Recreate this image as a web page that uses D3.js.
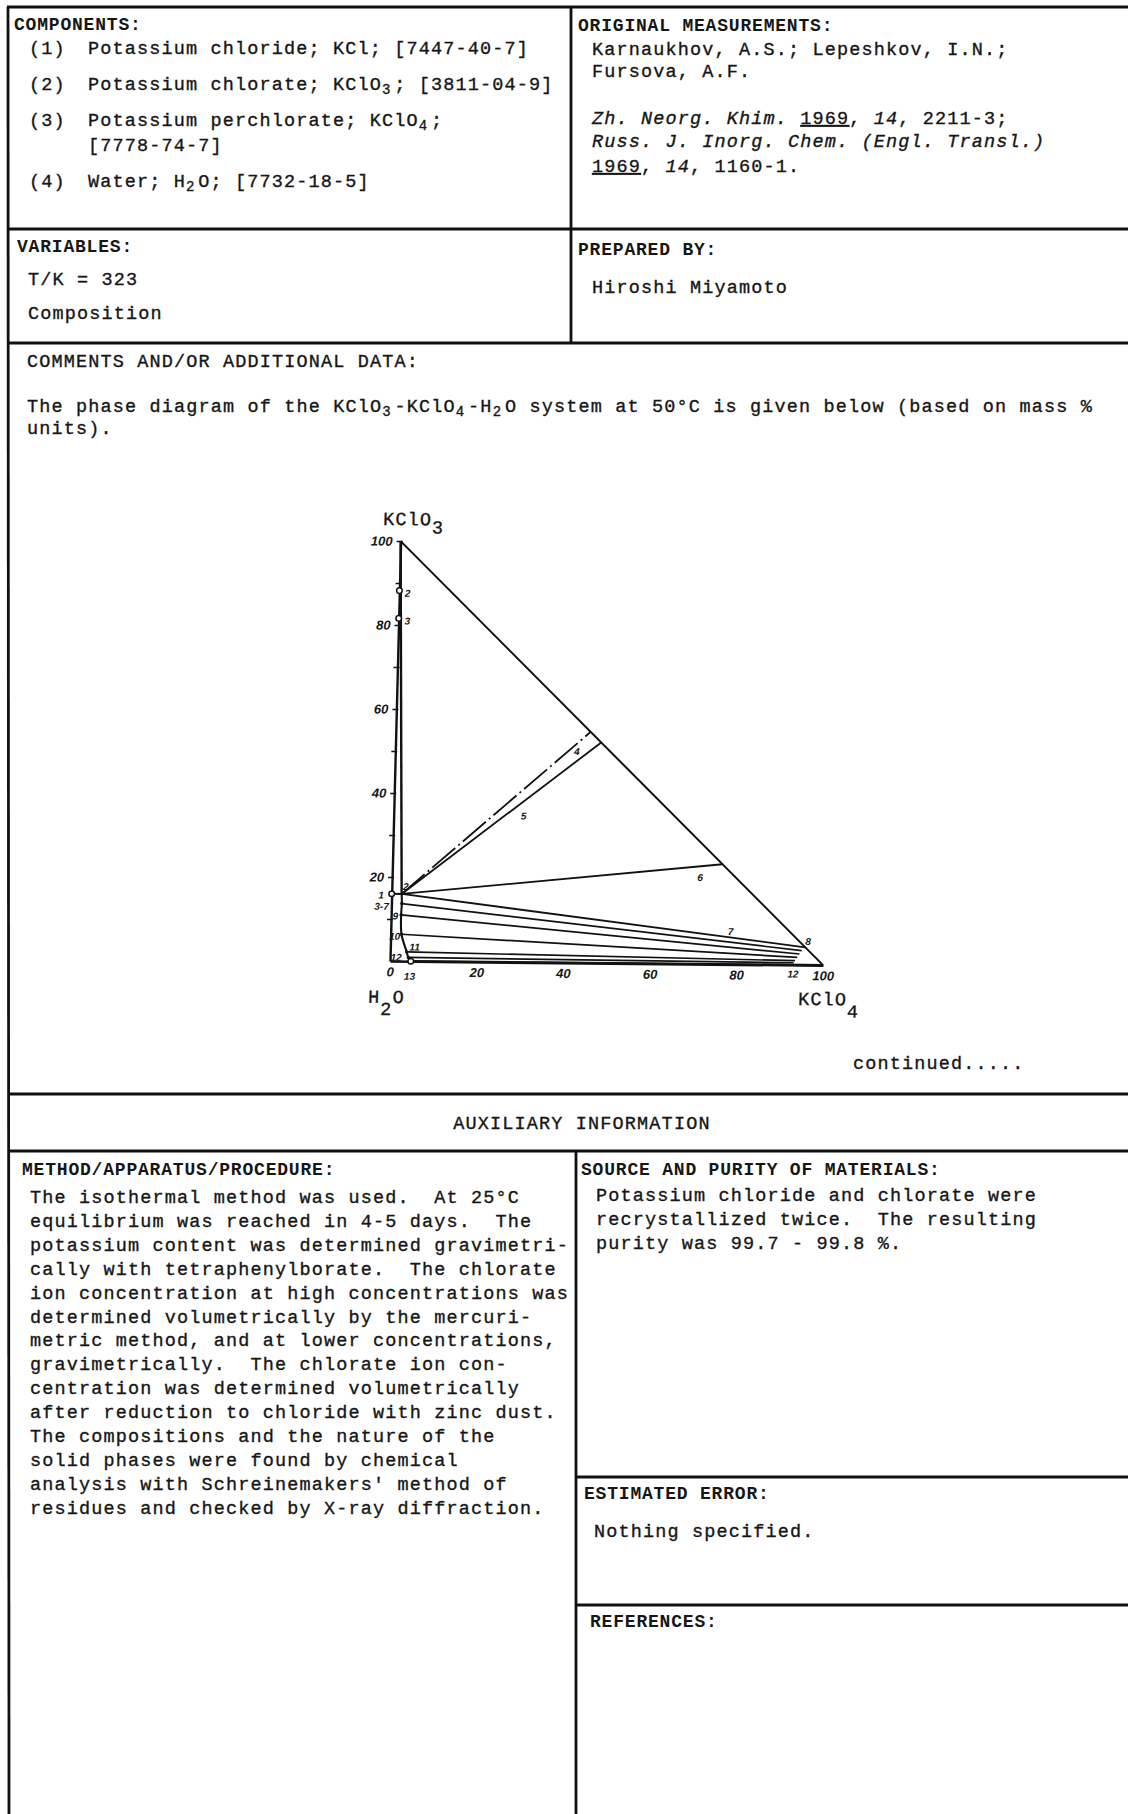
<!DOCTYPE html>
<html>
<head>
<meta charset="utf-8">
<script src="https://cdn.jsdelivr.net/npm/d3@7"></script>
<style>
  body { margin: 0; background: #fff; }
  svg text { white-space: pre; fill: #161616; }
  .tw { font: 18.5px "Liberation Mono", monospace; letter-spacing: 1.15px; stroke: #161616; stroke-width: 0.35px; }
  .hd { font: bold 18px "Liberation Mono", monospace; letter-spacing: 0.8px; }
  .sub { font-size: 14px; letter-spacing: 3.85px; }
  .it { font-style: italic; }
  .tick-lbl { font: italic bold 13px "Liberation Sans", sans-serif; }
  .pt-lbl { font: italic bold 10px "Liberation Sans", sans-serif; }
</style>
</head>
<body>
<svg id="page"></svg>
<script>
// ---- chart data (mass % KClO4 on x, mass % KClO3 on y) ----
const xTicks = [0, 20, 40, 60, 80, 100];
const yTicks = [20, 40, 60, 80, 100];
const yMinor = [10, 20, 30, 40, 50, 60, 70, 80, 90, 100];

const pointOne = [0, 16.0];
const eutonic = [2.3, 16.0];
// KClO4 branch of the isotherm: eutonic, 3-7, 9, 10, 11, 12, 13
const branchPoints = [[2.3, 16.0], [2.4, 13.7], [2.3, 11.0], [2.5, 6.4], [3.8, 2.2], [4.2, 0.9], [4.8, 0]];
// wet residues on the KClO3 side
const residuesKClO3 = [[0, 88.2], [0, 81.6]];
// rays from the eutonic solution (4 dash-dot, 5, 6, 7)
const eutonicRays = [[45.0, 55.0], [47.5, 52.5], [76.2, 23.8], [95.8, 4.2]];
// tie lines from the branch points towards KClO4
const tieEnds = [[95.0, 3.4], [94.5, 2.6], [94.0, 1.8], [93.5, 1.0], [93.2, 0.5], [100, 0]];

// ---- document text ----
const componentLines = [
  ["(1)", "Potassium chloride; KCl; [7447-40-7]"],
  ["(2)", "Potassium chlorate; KClO_3; [3811-04-9]"],
  ["(3)", "Potassium perchlorate; KClO_4;"],
  ["", "[7778-74-7]"],
  ["(4)", "Water; H_2O; [7732-18-5]"]
];
const methodLines = [
  "The isothermal method was used.  At 25\u00B0C",
  "equilibrium was reached in 4-5 days.  The",
  "potassium content was determined gravimetri-",
  "cally with tetraphenylborate.  The chlorate",
  "ion concentration at high concentrations was",
  "determined volumetrically by the mercuri-",
  "metric method, and at lower concentrations,",
  "gravimetrically.  The chlorate ion con-",
  "centration was determined volumetrically",
  "after reduction to chloride with zinc dust.",
  "The compositions and the nature of the",
  "solid phases were found by chemical",
  "analysis with Schreinemakers' method of",
  "residues and checked by X-ray diffraction."
];
const sourceLines = [
  "Potassium chloride and chlorate were",
  "recrystallized twice.  The resulting",
  "purity was 99.7 - 99.8 %."
];

const svg = d3.select("#page").attr("width", 1128).attr("height", 1814);
svg.append("rect").attr("width", 1128).attr("height", 1814).attr("fill", "#fff");

// write a typed line; "_3" style markers become subscripts
function typeLine(xx, yy, str, cls = "tw") {
  const t = svg.append("text").attr("class", cls).attr("x", xx).attr("y", yy);
  let shift = 0;
  str.split(/(_\d)/).forEach(part => {
    if (!part) return;
    if (/^_\d$/.test(part)) {
      t.append("tspan").attr("class", "sub").attr("dy", 4 - shift).text(part[1]);
      shift = 4;
    } else {
      t.append("tspan").attr("dy", -shift).text(part);
      shift = 0;
    }
  });
  return t;
}

// ---- frame ----
const frame = [
  [7, 7, 1128, 7], [8, 7, 9, 1814],
  [571, 7, 571, 343], [7, 229, 1128, 229], [7, 343, 1128, 343],
  [8, 1094, 1128, 1094], [8, 1151, 1128, 1151],
  [576, 1151, 576, 1814], [576, 1477, 1128, 1477], [576, 1605, 1128, 1605]
];
svg.selectAll("line.frame").data(frame).join("line")
  .attr("class", "frame")
  .attr("x1", d => d[0]).attr("y1", d => d[1])
  .attr("x2", d => d[2]).attr("y2", d => d[3])
  .attr("stroke", "#111").attr("stroke-width", 2.8);

// ---- top left ----
typeLine(14, 30, "COMPONENTS:", "hd");
const compY = [54, 90, 126, 151, 187];
componentLines.forEach((c, i) => {
  if (c[0]) typeLine(29, compY[i], c[0]);
  typeLine(88, compY[i], c[1]);
});
typeLine(17, 252, "VARIABLES:", "hd");
typeLine(28, 285, "T/K = 323");
typeLine(28, 319, "Composition");

// ---- top right ----
typeLine(578, 31, "ORIGINAL MEASUREMENTS:", "hd");
typeLine(592, 55, "Karnaukhov, A.S.; Lepeshkov, I.N.;");
typeLine(592, 77, "Fursova, A.F.");
{
  const t = svg.append("text").attr("class", "tw").attr("x", 592).attr("y", 124);
  t.append("tspan").attr("class", "it").text("Zh. Neorg. Khim. ");
  t.append("tspan").attr("text-decoration", "underline").text("1969");
  t.append("tspan").text(", ");
  t.append("tspan").attr("class", "it").text("14");
  t.append("tspan").text(", 2211-3;");
  svg.append("text").attr("class", "tw it").attr("x", 592).attr("y", 147)
    .text("Russ. J. Inorg. Chem. (Engl. Transl.)");
  const t3 = svg.append("text").attr("class", "tw").attr("x", 592).attr("y", 172);
  t3.append("tspan").attr("text-decoration", "underline").text("1969");
  t3.append("tspan").text(", ");
  t3.append("tspan").attr("class", "it").text("14");
  t3.append("tspan").text(", 1160-1.");
}
typeLine(578, 255, "PREPARED BY:", "hd");
typeLine(592, 293, "Hiroshi Miyamoto");

// ---- comments ----
typeLine(27, 367, "COMMENTS AND/OR ADDITIONAL DATA:");
typeLine(27, 412, "The phase diagram of the KClO_3-KClO_4-H_2O system at 50\u00B0C is given below (based on mass %");
typeLine(27, 434, "units).");
typeLine(853, 1069, "continued.....");

// ---- auxiliary information ----
typeLine(582, 1129, "AUXILIARY INFORMATION").attr("text-anchor", "middle");
typeLine(22, 1175, "METHOD/APPARATUS/PROCEDURE:", "hd");
methodLines.forEach((s, i) => typeLine(30, 1203 + i * 23.9, s));
typeLine(581, 1175, "SOURCE AND PURITY OF MATERIALS:", "hd");
sourceLines.forEach((s, i) => typeLine(596, 1201 + i * 24, s));
typeLine(584, 1499, "ESTIMATED ERROR:", "hd");
typeLine(594, 1537, "Nothing specified.");
typeLine(590, 1627, "REFERENCES:", "hd");

// ---- phase diagram ----
// the scanned figure sits slightly skewed on the page
const g = svg.append("g")
  .attr("transform", "translate(390,961) skewY(0.55) skewX(-1.45)");
const x = d3.scaleLinear().domain([0, 100]).range([0, 433]);
const y = d3.scaleLinear().domain([0, 100]).range([0, -420]);
const line = d3.line().x(d => x(d[0])).y(d => y(d[1]));

const yAxis = g.append("g").call(
  d3.axisLeft(y).tickValues(yMinor).tickSize(4).tickSizeOuter(0).tickPadding(4)
    .tickFormat(d => (yTicks.includes(d) ? d : ""))
);
yAxis.select(".domain").attr("stroke", "#111").attr("stroke-width", 2.4);
yAxis.selectAll(".tick line").attr("x1", 2).attr("stroke", "#111").attr("stroke-width", 1.5);
yAxis.selectAll(".tick text").attr("class", "tick-lbl").attr("fill", "#111");

const xAxis = g.append("g").call(
  d3.axisBottom(x).tickValues(xTicks).tickSize(0).tickSizeOuter(0).tickPadding(6)
);
xAxis.select(".domain").attr("stroke", "#111").attr("stroke-width", 2.6);
xAxis.selectAll(".tick text").attr("class", "tick-lbl").attr("fill", "#111");

const stroke = (sel, w) => sel.attr("fill", "none").attr("stroke", "#111").attr("stroke-width", w);

// hypotenuse KClO3 - KClO4
stroke(g.append("path").attr("d", line([[0, 100], [100, 0]])), 2);
// tie line from solid KClO3 to the eutonic solution
stroke(g.append("path").attr("d", line([[0, 100], eutonic])), 2.4);
// KClO3 branch
stroke(g.append("path").attr("d", line([pointOne, eutonic])), 2);
// KClO4 branch
stroke(g.append("path").attr("d", line.curve(d3.curveCatmullRom)(branchPoints)), 2.1);
line.curve(d3.curveLinear);

// rays from eutonic
eutonicRays.forEach((end, i) => {
  const p = stroke(g.append("path").attr("d", line([eutonic, end])), 1.8);
  if (i === 0) p.attr("stroke-dasharray", "30,4,2,4");
});
// tie lines towards KClO4
branchPoints.slice(1).forEach((pt, i) => {
  stroke(g.append("path").attr("d", line([pt, tieEnds[i]])), i === branchPoints.length - 2 ? 2.4 : 1.7);
});

// markers
g.selectAll("circle.open").data([pointOne, ...residuesKClO3, branchPoints[6]]).join("circle")
  .attr("class", "open").attr("cx", d => x(d[0])).attr("cy", d => y(d[1])).attr("r", 2.8)
  .attr("fill", "#fff").attr("stroke", "#111").attr("stroke-width", 1.5);
g.selectAll("circle.dot").data(branchPoints.slice(1, 6)).join("circle")
  .attr("class", "dot").attr("cx", d => x(d[0])).attr("cy", d => y(d[1])).attr("r", 1.7)
  .attr("fill", "#111");

// point and line labels (placed in composition units)
const labelSpots = [
  ["1", -1.8, 15.7, "end"], ["2", 2.6, 17.8, "start"],
  ["3-7", -0.6, 13.0, "end"], ["9", 1.0, 10.7, "middle"], ["10", 0.9, 5.9, "middle"],
  ["11", 5.6, 3.4, "middle"], ["12", 1.4, 0.9, "middle"], ["13", 4.6, -3.6, "middle"],
  ["2", 1.9, 87.6, "middle"], ["3", 2.0, 81.0, "middle"],
  ["4", 41.9, 50.3, "middle"], ["5", 30.0, 34.8, "middle"], ["6", 71.1, 20.6, "middle"],
  ["7", 78.5, 7.8, "middle"], ["8", 96.4, 5.6, "middle"], ["12", 93.1, -2.2, "middle"]
];
g.selectAll("text.pt").data(labelSpots).join("text")
  .attr("class", "pt-lbl").attr("x", d => x(d[1])).attr("y", d => y(d[2]))
  .attr("dy", "0.35em").attr("text-anchor", d => d[3]).text(d => d[0]);

// component labels at the corners
const corner = (xx, yy, main, sub, drop) => {
  const t = g.append("text").attr("class", "tw").attr("x", xx).attr("y", yy);
  t.append("tspan").text(main);
  t.append("tspan").attr("dy", drop).text(sub);
  return t;
};
corner(x(0) - 18, y(100) - 16, "KClO", "3", 8);
corner(x(100) - 24, 40, "KClO", "4", 12);
const h2o = g.append("text").attr("class", "tw").attr("x", x(0) - 21).attr("y", 42);
h2o.append("tspan").text("H");
h2o.append("tspan").attr("dy", 12).text("2");
h2o.append("tspan").attr("dy", -12).text("O");
</script>
</body>
</html>
